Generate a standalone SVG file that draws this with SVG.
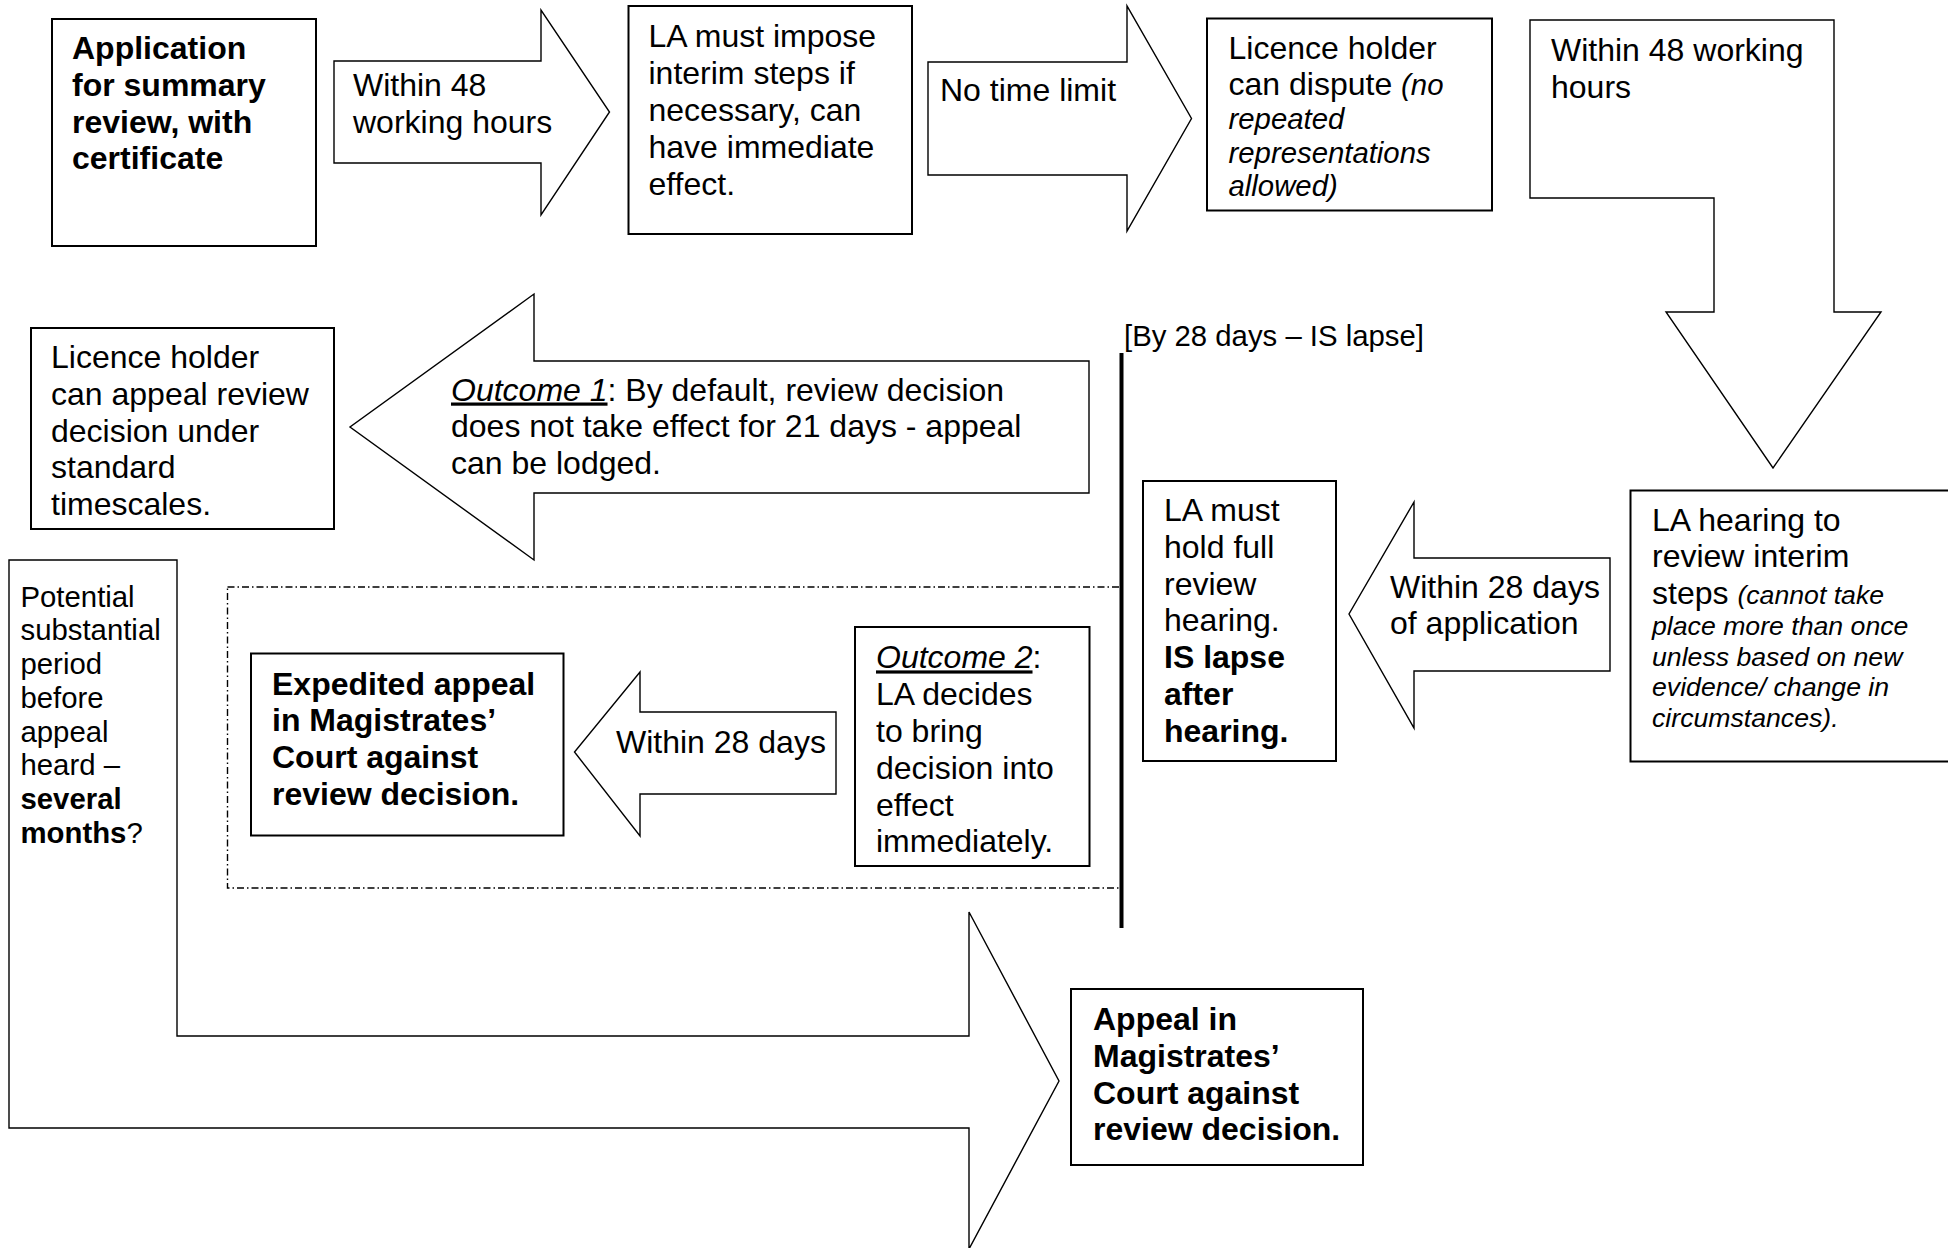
<svg xmlns="http://www.w3.org/2000/svg" width="1948" height="1248" viewBox="0 0 1948 1248">
<style>
.bx{fill:#fff;stroke:#000;stroke-width:2}
.ar{fill:#fff;stroke:#000;stroke-width:1.4;stroke-linejoin:miter}
.t{font-family:"Liberation Sans",Arial,sans-serif;font-size:32px;fill:#000}
.b{font-weight:bold}
.i{font-style:italic}
.s11{font-size:29.33px}
.s10{font-size:26.67px}
.u{text-decoration:underline}
</style>
<rect width="1948" height="1248" fill="#fff"/>
<g id="connectors">
  <rect id="dashed-frame" x="227.5" y="587" width="894.5" height="301" fill="none" stroke="#000" stroke-width="1.4" stroke-dasharray="7 3 1.5 3"/>
  <line id="is-lapse-line" x1="1121.5" y1="353" x2="1121.5" y2="928" stroke="#000" stroke-width="4"/>
  <g id="arrow-48h">
    <polygon class="ar" points="334,61 541,61 541,10 609.5,112 541,215 541,163 334,163"/>
    <text class="t" x="353" y="96">Within 48</text>
    <text class="t" x="353" y="133">working hours</text>
  </g>
  <g id="arrow-notimelimit">
    <polygon class="ar" points="928,62 1127,62 1127,6 1191.5,118.5 1127,231 1127,175 928,175"/>
    <text class="t" x="940" y="101">No time limit</text>
  </g>
  <g id="arrow-down-48h">
    <polygon class="ar" points="1530,20 1834,20 1834,312 1881,312 1773,468 1666,312 1714,312 1714,198 1530,198"/>
    <text class="t" x="1551" y="61">Within 48 working</text>
    <text class="t" x="1551" y="98">hours</text>
  </g>
  <g id="arrow-28days-app">
    <polygon class="ar" points="1610,558 1414,558 1414,502 1349,614 1414,728 1414,671 1610,671"/>
    <text class="t" x="1390" y="598">Within 28 days</text>
    <text class="t" x="1390" y="634">of application</text>
  </g>
  <g id="arrow-outcome1">
    <polygon class="ar" points="1089,361 534,361 534,294 350,427 534,560 534,493 1089,493"/>
    <text class="t" x="451" y="400.5"><tspan class="i u">Outcome 1</tspan>: By default, review decision</text>
    <text class="t" x="451" y="437.3">does not take effect for 21 days - appeal</text>
    <text class="t" x="451" y="474.1">can be lodged.</text>
  </g>
  <g id="arrow-28days">
    <polygon class="ar" points="836,712 640,712 640,672 574.5,752 640,836 640,794 836,794"/>
    <text class="t" x="616" y="753">Within 28 days</text>
  </g>
  <g id="arrow-potential">
    <polygon class="ar" points="9,560 177,560 177,1036 969,1036 969,912 1059,1081 969,1249 969,1128 9,1128"/>
    <text class="t s11" x="20.5" y="606.7">Potential</text>
    <text class="t s11" x="20.5" y="640.4">substantial</text>
    <text class="t s11" x="20.5" y="674.1">period</text>
    <text class="t s11" x="20.5" y="707.8">before</text>
    <text class="t s11" x="20.5" y="741.5">appeal</text>
    <text class="t s11" x="20.5" y="775.2">heard –</text>
    <text class="t s11 b" x="20.5" y="808.9">several</text>
    <text class="t s11" x="20.5" y="842.6"><tspan class="b">months</tspan>?</text>
  </g>
  <text class="t s11" x="1124" y="346">[By 28 days – IS lapse]</text>
</g>
<g id="node-application">
  <rect class="bx" x="52" y="19" width="264" height="227"/>
  <text class="t b" x="72" y="59">Application</text>
  <text class="t b" x="72" y="95.8">for summary</text>
  <text class="t b" x="72" y="132.6">review, with</text>
  <text class="t b" x="72" y="169.4">certificate</text>
</g>
<g id="node-interim">
  <rect class="bx" x="628.5" y="6" width="283.5" height="228"/>
  <text class="t" x="648.5" y="47.3">LA must impose</text>
  <text class="t" x="648.5" y="84.1">interim steps if</text>
  <text class="t" x="648.5" y="120.9">necessary, can</text>
  <text class="t" x="648.5" y="157.7">have immediate</text>
  <text class="t" x="648.5" y="194.5">effect.</text>
</g>
<g id="node-dispute">
  <rect class="bx" x="1207" y="18.5" width="285" height="192"/>
  <text class="t" x="1228.5" y="58.6">Licence holder</text>
  <text class="t" x="1228.5" y="95.4">can dispute <tspan class="i s11">(no</tspan></text>
  <text class="t i s11" x="1228.5" y="128.8">repeated</text>
  <text class="t i s11" x="1228.5" y="162.5">representations</text>
  <text class="t i s11" x="1228.5" y="196.2">allowed)</text>
</g>
<g id="node-hearing">
  <rect class="bx" x="1630.5" y="490.5" width="330" height="271"/>
  <text class="t" x="1652" y="530.5">LA hearing to</text>
  <text class="t" x="1652" y="567.3">review interim</text>
  <text class="t" x="1652" y="604.1">steps <tspan class="i s10">(cannot take</tspan></text>
  <text class="t i s10" x="1652" y="634.8">place more than once</text>
  <text class="t i s10" x="1652" y="665.5">unless based on new</text>
  <text class="t i s10" x="1652" y="696.2">evidence/ change in</text>
  <text class="t i s10" x="1652" y="726.9">circumstances).</text>
</g>
<g id="node-full-review">
  <rect class="bx" x="1143" y="481" width="193" height="280"/>
  <text class="t" x="1164" y="521">LA must</text>
  <text class="t" x="1164" y="557.8">hold full</text>
  <text class="t" x="1164" y="594.6">review</text>
  <text class="t" x="1164" y="631.4">hearing.</text>
  <text class="t b" x="1164" y="668.2">IS lapse</text>
  <text class="t b" x="1164" y="705">after</text>
  <text class="t b" x="1164" y="741.8">hearing.</text>
</g>
<g id="node-appeal-standard">
  <rect class="bx" x="31" y="328" width="303" height="201"/>
  <text class="t" x="51" y="368">Licence holder</text>
  <text class="t" x="51" y="404.8">can appeal review</text>
  <text class="t" x="51" y="441.6">decision under</text>
  <text class="t" x="51" y="478.4">standard</text>
  <text class="t" x="51" y="515.2">timescales.</text>
</g>
<g id="node-outcome2">
  <rect class="bx" x="855" y="627" width="234.5" height="239"/>
  <text class="t" x="876" y="668.4"><tspan class="i u">Outcome 2</tspan>:</text>
  <text class="t" x="876" y="705.2">LA decides</text>
  <text class="t" x="876" y="742">to bring</text>
  <text class="t" x="876" y="778.8">decision into</text>
  <text class="t" x="876" y="815.6">effect</text>
  <text class="t" x="876" y="852.4">immediately.</text>
</g>
<g id="node-expedited">
  <rect class="bx" x="251" y="653.5" width="312.5" height="182"/>
  <text class="t b" x="272" y="694.5">Expedited appeal</text>
  <text class="t b" x="272" y="731.3">in Magistrates’</text>
  <text class="t b" x="272" y="768.1">Court against</text>
  <text class="t b" x="272" y="804.9">review decision.</text>
</g>
<g id="node-appeal-court">
  <rect class="bx" x="1071" y="989" width="292" height="176"/>
  <text class="t b" x="1093" y="1030">Appeal in</text>
  <text class="t b" x="1093" y="1066.8">Magistrates’</text>
  <text class="t b" x="1093" y="1103.6">Court against</text>
  <text class="t b" x="1093" y="1140.4">review decision.</text>
</g>
</svg>
